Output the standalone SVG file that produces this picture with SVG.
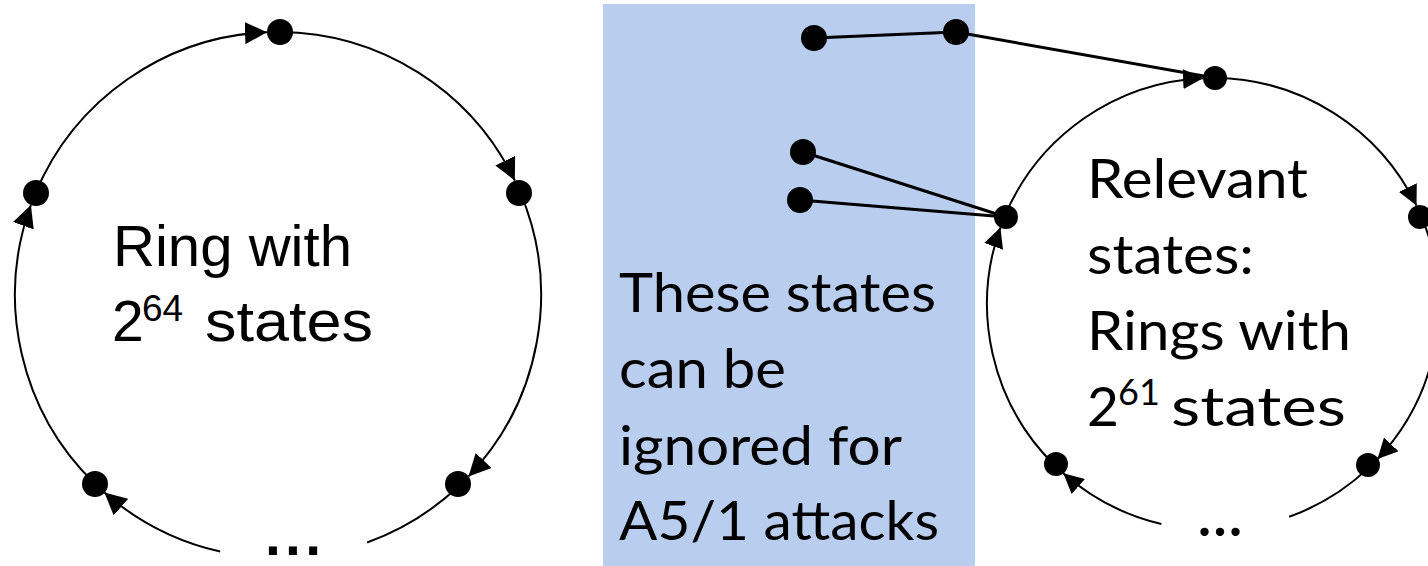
<svg xmlns="http://www.w3.org/2000/svg" width="1428" height="566" viewBox="0 0 1428 566">
  <style>
    .ring { fill: none; stroke: #000; stroke-width: 2; }
    .link { fill: none; stroke: #000; stroke-width: 3; }
    .dot { fill: #000; }
    .lbl-l { font-family: "Liberation Sans", Arial, sans-serif; font-size: 57px; fill: #000; }
    .sup-l { font-family: "Liberation Sans", Arial, sans-serif; font-size: 37px; fill: #000; }
    .lbl-r { font-family: Lato, "Open Sans", sans-serif; font-size: 55px; fill: #000; }
    .sup-r { font-family: Lato, "Open Sans", sans-serif; font-size: 36px; fill: #000; }
  </style>
  <defs>
    <marker id="arrowL" markerUnits="userSpaceOnUse" markerWidth="22" markerHeight="22" refX="22" refY="11" orient="auto">
      <path d="M0,0 L22,11 L0,22 Z" fill="#000"/>
    </marker>
    <marker id="arrowR" markerUnits="userSpaceOnUse" markerWidth="20" markerHeight="20" refX="20" refY="10" orient="auto">
      <path d="M0,0 L20,10 L0,20 Z" fill="#000"/>
    </marker>
  </defs>

  <!-- shaded band of ignored states -->
  <rect id="ignored-band" x="603" y="4" width="372" height="562" fill="#b9cdee"/>

  <g id="connectors">
    <!-- left ring, centre (278,295) r 263, clockwise -->
    <path class="ring" d="M220.2,551.6 A263,263 0 0 1 104.4,492.6" marker-end="url(#arrowL)"/>
    <path class="ring" d="M94.8,483.7 A263,263 0 0 1 30.9,205.0" marker-end="url(#arrowL)"/>
    <path class="ring" d="M35.5,193.1 A263,263 0 0 1 267.0,32.2" marker-end="url(#arrowL)"/>
    <path class="ring" d="M279.8,32.0 A263,263 0 0 1 514.8,180.5" marker-end="url(#arrowL)"/>
    <path class="ring" d="M520.1,192.2 A263,263 0 0 1 468.5,476.4" marker-end="url(#arrowL)"/>
    <path class="ring" d="M459.4,485.5 A263,263 0 0 1 367.1,542.5"/>

    <!-- right ring, centre (1213,304) r 226, clockwise -->
    <path class="ring" d="M1161.4,524.0 A226,226 0 0 1 1063.3,473.3" marker-end="url(#arrowR)"/>
    <path class="ring" d="M1054.6,465.2 A226,226 0 0 1 1000.4,227.5" marker-end="url(#arrowR)"/>
    <path class="ring" d="M1004.6,216.4 A226,226 0 0 1 1203.1,78.2" marker-end="url(#arrowR)"/>
    <path class="ring" d="M1215.0,78.0 A226,226 0 0 1 1416.5,205.6" marker-end="url(#arrowR)"/>
    <path class="ring" d="M1421.3,216.4 A226,226 0 0 1 1377.5,459.0" marker-end="url(#arrowR)"/>
    <path class="ring" d="M1369.1,467.4 A226,226 0 0 1 1289.2,516.8"/>

    <!-- tails leading into the ring -->
    <line class="link" x1="814" y1="38" x2="956" y2="32"/>
    <line class="link" x1="956" y1="32" x2="1215" y2="78"/>
    <line class="link" x1="803" y1="152" x2="1006" y2="217"/>
    <line class="link" x1="800" y1="200" x2="1006" y2="217"/>
  </g>

  <!-- left ring states -->
  <g id="l-top"><circle class="dot" cx="280" cy="32" r="13"/></g>
  <g id="l-right"><circle class="dot" cx="519" cy="193" r="13"/></g>
  <g id="l-bottom-right"><circle class="dot" cx="458" cy="484" r="13"/></g>
  <g id="l-bottom-left"><circle class="dot" cx="95" cy="484" r="13"/></g>
  <g id="l-left"><circle class="dot" cx="36" cy="193" r="13"/></g>

  <!-- tail states -->
  <g id="t-a"><circle class="dot" cx="814" cy="38" r="13"/></g>
  <g id="t-b"><circle class="dot" cx="956" cy="32" r="13"/></g>
  <g id="t-c"><circle class="dot" cx="803" cy="152" r="13"/></g>
  <g id="t-d"><circle class="dot" cx="800" cy="200" r="13"/></g>

  <!-- right ring states -->
  <g id="r-top"><circle class="dot" cx="1215" cy="78" r="12"/></g>
  <g id="r-right"><circle class="dot" cx="1420" cy="217" r="12"/></g>
  <g id="r-bottom-right"><circle class="dot" cx="1368" cy="465" r="12"/></g>
  <g id="r-bottom-left"><circle class="dot" cx="1056" cy="464" r="12"/></g>
  <g id="r-left"><circle class="dot" cx="1006" cy="217" r="12"/></g>

  <!-- labels -->
  <g id="label-left">
    <text class="lbl-l" x="113" y="266" textLength="239" lengthAdjust="spacingAndGlyphs">Ring with</text>
    <text class="lbl-l" x="112" y="341">2</text>
    <text class="sup-l" x="142" y="321">64</text>
    <text class="lbl-l" x="205" y="341" textLength="168" lengthAdjust="spacingAndGlyphs">states</text>
    <text class="lbl-l" x="265" y="555" font-size="47" font-weight="bold" textLength="56" lengthAdjust="spacing">...</text>
  </g>

  <g id="label-ignored">
    <text class="lbl-r" x="619" y="312" textLength="317" lengthAdjust="spacingAndGlyphs">These states</text>
    <text class="lbl-r" x="619" y="388" textLength="167" lengthAdjust="spacingAndGlyphs">can be</text>
    <text class="lbl-r" x="619" y="465" textLength="283" lengthAdjust="spacingAndGlyphs">ignored for</text>
    <text class="lbl-r" x="619" y="540" textLength="320" lengthAdjust="spacingAndGlyphs">A5/1 attacks</text>
  </g>

  <g id="label-right">
    <text class="lbl-r" x="1087" y="198" textLength="221" lengthAdjust="spacingAndGlyphs">Relevant</text>
    <text class="lbl-r" x="1087" y="274" textLength="167" lengthAdjust="spacingAndGlyphs">states:</text>
    <text class="lbl-r" x="1087" y="350" textLength="264" lengthAdjust="spacingAndGlyphs">Rings with</text>
    <text class="lbl-r" x="1087" y="426">2</text>
    <text class="sup-r" x="1118" y="405">61</text>
    <text class="lbl-r" x="1171" y="426" textLength="175" lengthAdjust="spacingAndGlyphs">states</text>
    <text class="lbl-r" x="1198" y="536" font-weight="bold" textLength="44" lengthAdjust="spacing">...</text>
  </g>
</svg>
